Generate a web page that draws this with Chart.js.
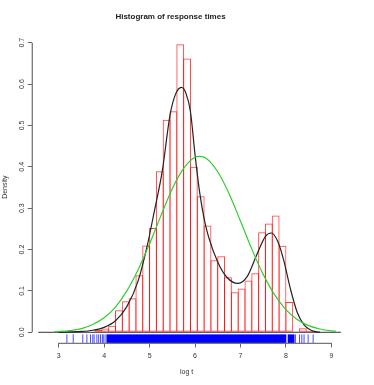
<!DOCTYPE html>
<html>
<head>
<meta charset="utf-8">
<script src="https://cdn.jsdelivr.net/npm/chart.js@4.4.0/dist/chart.umd.min.js"></script>
<style>
  html, body { margin: 0; padding: 0; background: #ffffff; }
  #grafica { display: block; }
</style>
</head>
<body>
<canvas id="grafica" width="374" height="385"></canvas>
<script>
// histograma (centros de las clases, ancho 0.15) y densidades
const binCenters = [3.875, 4.025, 4.175, 4.325, 4.475, 4.625, 4.775, 4.925, 5.075, 5.225, 5.375,
    5.525, 5.675, 5.825, 5.975, 6.125, 6.275, 6.425, 6.575, 6.725, 6.875, 7.025, 7.175, 7.325,
    7.475, 7.625, 7.775, 7.925, 8.075, 8.225, 8.375, 8.525];
const binHeights = [0.006, 0.009, 0.016, 0.053, 0.075, 0.082, 0.138, 0.210, 0.252, 0.389, 0.514,
    0.534, 0.696, 0.662, 0.400, 0.329, 0.258, 0.174, 0.184, 0.133, 0.097, 0.106, 0.125, 0.143,
    0.242, 0.263, 0.282, 0.209, 0.073, 0.002, 0.010, 0.003];

// curva de densidad (negra)
const densX = [3.0, 3.5, 3.75, 4.0, 4.25, 4.5, 4.75, 4.95, 5.1, 5.28, 5.45, 5.57, 5.7, 5.8, 5.9,
    6.0, 6.1, 6.2, 6.3, 6.5, 6.7, 6.95, 7.15, 7.35, 7.55, 7.68, 7.82, 7.95, 8.1, 8.25, 8.4, 8.55, 8.75];
const densY = [0.0, 0.002, 0.005, 0.012, 0.028, 0.062, 0.125, 0.21, 0.29, 0.39, 0.525, 0.575, 0.592,
    0.578, 0.533, 0.43, 0.34, 0.275, 0.23, 0.17, 0.133, 0.118, 0.135, 0.185, 0.232, 0.24, 0.22,
    0.175, 0.105, 0.048, 0.018, 0.005, 0.0];

// curva normal (verde)
const normX = [2.9, 3.25, 3.5, 3.75, 4.0, 4.25, 4.5, 4.75, 5.0, 5.25, 5.5, 5.75, 6.0, 6.1, 6.25,
    6.5, 6.75, 7.0, 7.25, 7.5, 7.75, 8.0, 8.25, 8.5, 8.75, 9.0, 9.1];
const normY = [0.0013, 0.0043, 0.009, 0.019, 0.035, 0.061, 0.100, 0.152, 0.214, 0.282, 0.347, 0.396,
    0.423, 0.425, 0.420, 0.388, 0.335, 0.269, 0.201, 0.140, 0.091, 0.055, 0.031, 0.016, 0.008, 0.0036, 0.0026];

// linea en cero
const baseX = [2.55, 9.21];
const baseY = [0, 0];

// rug: marcas sueltas y tramos densos
const rugTicks = [3.18, 3.32, 3.53, 3.62, 3.70, 3.75, 3.78, 3.84, 3.88, 3.92, 3.96, 3.98, 4.02,
    8.21, 8.30, 8.35, 8.40, 8.49, 8.60];
const rugBands = [[4.05, 8.01], [8.04, 8.19]];

const xTicks = [3, 4, 5, 6, 7, 8, 9];
const yTicks = [0, 0.1, 0.2, 0.3, 0.4, 0.5, 0.6, 0.7];
const yTickLabels = ['0.0', '0.1', '0.2', '0.3', '0.4', '0.5', '0.6', '0.7'];

function pares(xs, ys) {
    return xs.map((x, i) => ({ x: x, y: ys[i] }));
}

const fuente = 'Liberation Sans, Arial, sans-serif';

const ejesR = {
    id: 'ejesR',
    afterDatasetsDraw(chart) {
        const ctx = chart.ctx;
        const xs = chart.scales.x;
        const ys = chart.scales.y;
        const area = chart.chartArea;
        ctx.save();
        // rug
        const rugTop = ys.getPixelForValue(-0.005);
        ctx.fillStyle = '#0000ff';
        rugBands.forEach(b => {
            const a = xs.getPixelForValue(b[0]);
            const c = xs.getPixelForValue(b[1]);
            ctx.fillRect(a, rugTop, c - a, area.bottom - rugTop);
        });
        ctx.strokeStyle = 'rgba(0,0,255,0.7)';
        ctx.lineWidth = 1;
        rugTicks.forEach(v => {
            const p = xs.getPixelForValue(v);
            ctx.beginPath();
            ctx.moveTo(p, rugTop);
            ctx.lineTo(p, area.bottom);
            ctx.stroke();
        });
        // lineas de ejes solo sobre el rango de marcas
        ctx.strokeStyle = '#777777';
        ctx.lineWidth = 1.3;
        ctx.beginPath();
        ctx.moveTo(xs.getPixelForValue(xTicks[0]), area.bottom);
        ctx.lineTo(xs.getPixelForValue(xTicks[xTicks.length - 1]), area.bottom);
        ctx.moveTo(area.left, ys.getPixelForValue(yTicks[0]));
        ctx.lineTo(area.left, ys.getPixelForValue(yTicks[yTicks.length - 1]));
        ctx.stroke();
        ctx.restore();
    }
};

const ctx1 = document.getElementById('grafica').getContext('2d');

new Chart(ctx1, {
    type: 'bar',
    data: {
        datasets: [
            {
                type: 'line',
                data: pares(baseX, baseY),
                borderColor: '#333333',
                borderWidth: 1,
                pointRadius: 0,
                order: 4
            },
            {
                type: 'bar',
                data: pares(binCenters, binHeights),
                backgroundColor: 'rgba(255,255,255,0)',
                borderColor: 'rgba(255,0,0,0.75)',
                borderWidth: 1,
                borderSkipped: false,
                barPercentage: 1.147,
                categoryPercentage: 1,
                order: 3
            },
            {
                type: 'line',
                data: pares(densX, densY),
                borderColor: '#222222',
                borderWidth: 1.2,
                pointRadius: 0,
                cubicInterpolationMode: 'monotone',
                order: 2
            },
            {
                type: 'line',
                data: pares(normX, normY),
                borderColor: '#33cc33',
                borderWidth: 1.2,
                pointRadius: 0,
                cubicInterpolationMode: 'monotone',
                order: 1
            }
        ]
    },
    options: {
        responsive: false,
        animation: false,
        events: [],
        layout: { padding: { left: 0, right: 33, top: 0, bottom: 0 } },
        plugins: {
            legend: { display: false },
            tooltip: { enabled: false },
            title: {
                display: true,
                text: 'Histogram of response times',
                color: '#222222',
                font: { family: fuente, size: 8, weight: 'bold' },
                padding: { top: 11.9, bottom: 9.6 }
            }
        },
        scales: {
            x: {
                type: 'linear',
                min: 2.419,
                max: 9.213,
                offset: false,
                afterBuildTicks: s => { s.ticks = xTicks.map(v => ({ value: v })); },
                afterFit: s => { s.height = 41.7; },
                grid: { offset: false, drawOnChartArea: false, drawTicks: true, tickLength: 4.2, color: '#666666', lineWidth: 1 },
                border: { display: false },
                ticks: {
                    color: '#333333',
                    font: { family: fuente, size: 7 },
                    padding: 4.3,
                    maxRotation: 0,
                    autoSkip: false,
                    callback: v => String(v)
                },
                title: {
                    display: true,
                    text: 'log t',
                    color: '#333333',
                    font: { family: fuente, size: 7 },
                    padding: { top: 0, bottom: 8.8 }
                }
            },
            y: {
                min: -0.0266,
                max: 0.728,
                afterBuildTicks: s => { s.ticks = yTicks.map(v => ({ value: v })); },
                afterFit: s => { s.width = 32.3; },
                grid: { offset: false, drawOnChartArea: false, drawTicks: true, tickLength: 4.5, color: '#666666', lineWidth: 1 },
                border: { display: false },
                ticks: {
                    color: '#333333',
                    font: { family: fuente, size: 7 },
                    padding: 1.2,
                    minRotation: 90,
                    maxRotation: 90,
                    crossAlign: 'center',
                    autoSkip: false,
                    callback: (v, i) => yTickLabels[i]
                },
                title: {
                    display: true,
                    text: 'Density',
                    color: '#333333',
                    font: { family: fuente, size: 7 },
                    padding: { top: 0.8, bottom: 0 }
                }
            }
        }
    },
    plugins: [ejesR]
});
</script>
</body>
</html>
